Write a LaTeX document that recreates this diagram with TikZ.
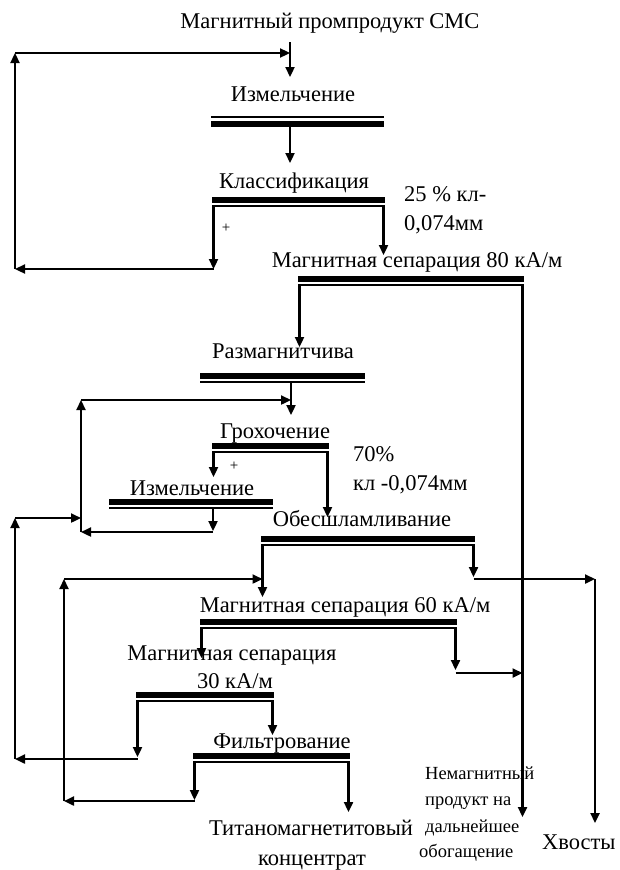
\documentclass[tikz,border=0pt]{standalone}
\usepackage{fontspec}
\setmainfont{Liberation Serif}
\usetikzlibrary{arrows.meta}
\newcommand\procbar[4]{%
  \fill (#2,#4) rectangle (#3,#4+6);
  \draw[line width=2.2pt] (#2,#4+9) -- (#3,#4+9);
  \coordinate (#1L) at (#2+1.5,#4+9);
  \coordinate (#1R) at (#3-1.5,#4+9);}
\begin{document}
\begin{tikzpicture}[x=1pt,y=-1pt,line width=2.3pt,
  flow/.style={-{Triangle[length=10pt,width=9pt]}},
  lbl/.style={font=\fontsize{22.5}{26}\selectfont,inner sep=0pt,anchor=base},
  lblL/.style={lbl,anchor=base west},
  note/.style={font=\fontsize{18.5}{26}\selectfont,inner sep=0pt,anchor=base west},
  plus/.style={font=\fontsize{15}{16}\selectfont,inner sep=0pt}]
\useasboundingbox (0,0) rectangle (619,870);

% ---------- texts ----------
\node[lbl] (title) at (330,28) {Магнитный промпродукт СМС};
\node[lbl] (izm1) at (293,101) {Измельчение};
\node[lbl] (klass) at (294,188) {Классификация};
\node[lblL] (k25) at (403,201) {25 \% кл-};
\node[lblL] (k074) at (403,230) {0,074мм};
\node[plus] (plus1) at (226,228) {+};
\node[lbl] (mag80) at (417,267) {Магнитная сепарация 80 кА/м};
\node[lbl] (razm) at (283,358) {Размагнитчива};
\node[lbl] (groh) at (275,438) {Грохочение};
\node[lblL] (p70) at (352,461) {70\%};
\node[lblL] (kl70) at (352,490) {кл -0,074мм};
\node[plus] (plus2) at (234,466) {+};
\node[lbl] (izm2) at (192,495) {Измельчение};
\node[lbl] (obes) at (362,526) {Обесшламливание};
\node[lbl] (mag60) at (345,612) {Магнитная сепарация 60 кА/м};
\node[lbl] (mag30a) at (232,660) {Магнитная сепарация};
\node[lbl] (mag30b) at (235,688) {30 кА/м};
\node[lbl] (filt) at (282,748) {Фильтрование};
\node[lbl] (titan1) at (311,835) {Титаномагнетитовый};
\node[lbl] (titan2) at (312,865) {концентрат};
\node[note] (nem1) at (424,779) {Немагнитный};
\node[note] (nem2) at (424,805) {продукт на};
\node[note] (nem3) at (424,832) {дальнейшее};
\node[note] (nem4) at (418,857) {обогащение};
\node[lblL] (hvost) at (541,849) {Хвосты};

% ---------- bars ----------
% first grinding: thin line on top, thick below
\draw[line width=2.2pt] (211,117) -- (384,117);
\fill (211,121) rectangle (384,127);
\coordinate (b1M) at (290,127);
\procbar{b2}{212}{385}{197}
\procbar{b3}{298}{524}{276}
\procbar{b4}{200}{365}{373}
\coordinate (b4M) at (291,382);
\procbar{b5}{212}{329}{443}
\procbar{b6}{109}{273}{499}
\coordinate (b6M) at (213,508);
\procbar{b7}{261}{475}{536}
\procbar{b8}{200}{457}{619}
\procbar{b9}{136}{274}{692}
\procbar{b10}{193}{350}{753}

% ---------- turning points ----------
\coordinate (s0) at (290,42);
\coordinate (s1) at (290,77);
\coordinate (s2) at (290,163);
\coordinate (c1) at (213.5,269);
\coordinate (c2) at (15,269);
\coordinate (c3) at (15,53);
\coordinate (c4) at (290,53);
\coordinate (d1) at (383.5,255);
\coordinate (e1) at (299.5,347);
\coordinate (e2) at (522.5,817);
\coordinate (f1) at (291,415);
\coordinate (f2) at (81,400);
\coordinate (f3) at (291,400);
\coordinate (g1) at (213.5,477);
\coordinate (g2) at (327.5,517);
\coordinate (h1) at (213,531);
\coordinate (h2) at (81,532);
\coordinate (h3) at (15,518);
\coordinate (h4) at (81,518);
\coordinate (i1) at (262.5,597);
\coordinate (i2) at (473.5,577);
\coordinate (i3) at (595,579);
\coordinate (i4) at (595,823);
\coordinate (i5) at (64,579);
\coordinate (i6) at (262.5,579);
\coordinate (j1) at (201.5,658);
\coordinate (j2) at (455.5,670);
\coordinate (j3) at (522.5,673);
\coordinate (k1) at (137.5,757);
\coordinate (k2) at (15,759);
\coordinate (k3) at (272.5,735);
\coordinate (l1) at (194.5,800);
\coordinate (l2) at (64,801);
\coordinate (l3) at (348.5,812);

% ---------- connectors ----------
\draw[flow] (s0) -- (s1);
\draw[flow] (b1M) -- (s2);
\draw[flow] (b2L) -- (c1);
\draw[flow] (c1) -- (c2);
\draw[flow] (c2) -- (c3);
\draw[flow] (c3) -- (c4);
\draw[flow] (b2R) -- (d1);
\draw[flow] (b3L) -- (e1);
\draw[flow] (b3R) -- (e2);
\draw[flow] (b4M) -- (f1);
\draw[flow] (h2) -- (f2);
\draw[flow] (f2) -- (f3);
\draw[flow] (b5L) -- (g1);
\draw[flow] (b5R) -- (g2);
\draw[flow] (b6M) -- (h1);
\draw[flow] (h1 |- h2) -- (h2);
\draw[flow] (k2) -- (h3);
\draw[flow] (h3) -- (h4);
\draw[flow] (b7L) -- (i1);
\draw[flow] (b7R) -- (i2);
\draw[flow] (i2 |- i3) -- (i3);
\draw[flow] (i3) -- (i4);
\draw[flow] (l2) -- (i5);
\draw[flow] (i5) -- (i6);
\draw[flow] (b8L) -- (j1);
\draw[flow] (b8R) -- (j2);
\draw[flow] (j2 |- j3) -- (j3);
\draw[flow] (b9L) -- (k1);
\draw[flow] (k1 |- k2) -- (k2);
\draw[flow] (b9R) -- (k3);
\draw[flow] (b10L) -- (l1);
\draw[flow] (l1 |- l2) -- (l2);
\draw[flow] (b10R) -- (l3);
\end{tikzpicture}
\end{document}
